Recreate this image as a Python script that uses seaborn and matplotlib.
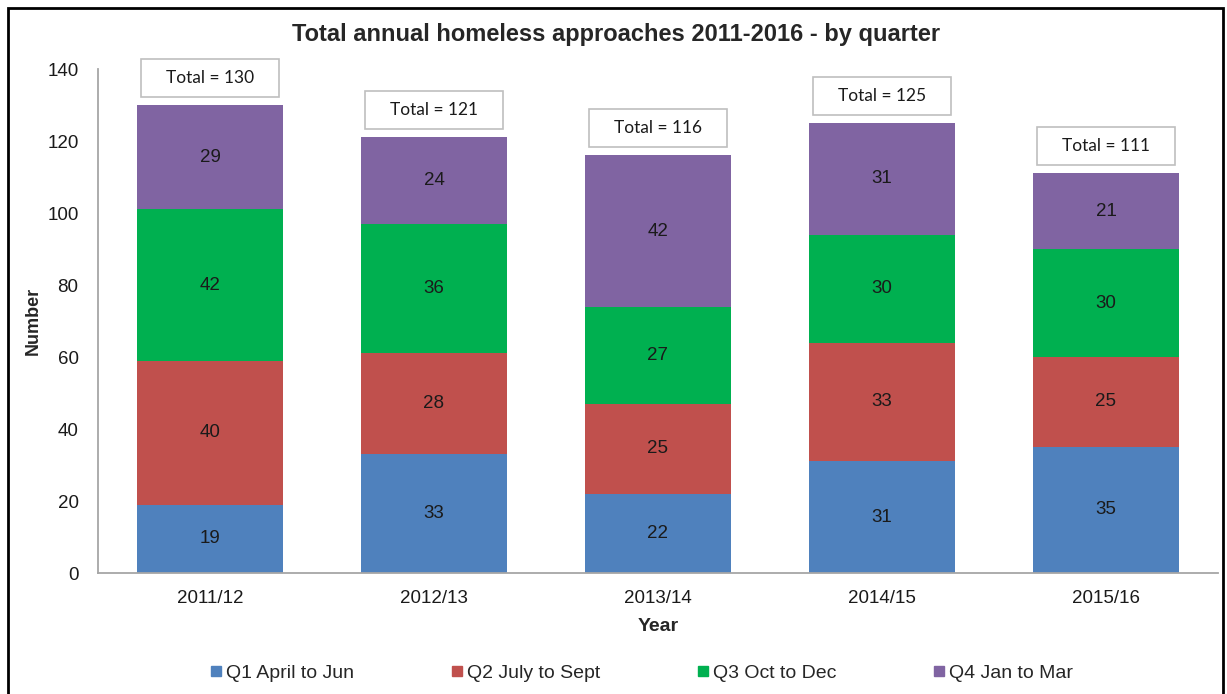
import matplotlib
matplotlib.use("Agg")
import matplotlib.pyplot as plt
from matplotlib.patches import Rectangle
from matplotlib.lines import Line2D
import numpy as np
import pandas as pd
import seaborn as sns

years = ["2011/12", "2012/13", "2013/14", "2014/15", "2015/16"]
q1 = [19, 33, 22, 31, 35]
q2 = [40, 28, 25, 33, 25]
q3 = [42, 36, 27, 30, 30]
q4 = [29, 24, 42, 31, 21]
series_names = ["Q1 April to Jun", "Q2 July to Sept", "Q3 Oct to Dec", "Q4 Jan to Mar"]
colors = ["#4F81BD", "#C0504D", "#00B050", "#8064A2"]

sns.set_theme(style="white")
plt.rcParams["font.family"] = ["Liberation Sans", "DejaVu Sans"]

fig = plt.figure(figsize=(12.27, 6.94), dpi=100)
ax = fig.add_axes([98 / 1227, 1 - 573 / 694, 1120 / 1227, (573 - 69) / 694])

series = [q1, q2, q3, q4]
stack = np.cumsum(np.array(series), axis=0)
totals = stack[-1]

# Stacked bars: draw cumulative heights from the top layer down
for i in range(len(series) - 1, -1, -1):
    df = pd.DataFrame({"Year": years, "Value": stack[i]})
    sns.barplot(data=df, x="Year", y="Value", color=colors[i], saturation=1,
                width=0.65, ax=ax, linewidth=0)

# Segment value labels
for i, vals in enumerate(series):
    base = stack[i] - np.array(vals)
    for j, v in enumerate(vals):
        ax.text(j, base[j] + v / 2, str(v), ha="center", va="center",
                fontsize=13.5, color="#1a1a1a")

# Total boxes above each bar
bw = 0.615
for j, t in enumerate(totals):
    ax.add_patch(Rectangle((j - bw / 2, t + 2.3), bw, 10.6, facecolor="white",
                           edgecolor="#BFBFBF", linewidth=1.2, clip_on=False, zorder=5))
    ax.text(j, t + 7.6, f"Total = {t}", ha="center", va="center", fontsize=12.5,
            family=["Lato", "DejaVu Sans"], color="#1a1a1a", zorder=6, clip_on=False)

ax.set_xlim(-0.5, 4.5)
ax.set_ylim(0, 140)
ax.set_yticks(range(0, 141, 20))
ax.tick_params(axis="both", length=0, labelsize=13.5, colors="#1a1a1a")
ax.tick_params(axis="x", pad=12)
ax.tick_params(axis="y", pad=14)
for s in ["top", "right"]:
    ax.spines[s].set_visible(False)
for s in ["left", "bottom"]:
    ax.spines[s].set_color("#A6A6A6")
    ax.spines[s].set_linewidth(1.3)

ax.set_xlabel("Year", fontsize=14, fontweight="bold", labelpad=8)
ax.set_ylabel("Number", fontsize=13, fontweight="bold")
ax.yaxis.set_label_coords((42 - 98) / 1120, 0.5)

fig.text(616 / 1227, 1 - 34 / 694, "Total annual homeless approaches 2011-2016 - by quarter",
         ha="center", va="center", fontsize=17, fontweight="bold")

handles = [Line2D([], [], marker="s", linestyle="", markersize=7,
                  markerfacecolor=c, markeredgecolor=c) for c in colors]
fig.legend(handles, series_names, loc="center", bbox_to_anchor=(0.522, 1 - 673 / 694),
           ncol=4, frameon=False, fontsize=14, handletextpad=0.1,
           columnspacing=4.9, handlelength=0.8)

fig.patches.append(Rectangle((8 / 1227, -0.02), 1215 / 1227, 1 - 8 / 694 + 0.02,
                             transform=fig.transFigure, fill=False,
                             edgecolor="black", linewidth=2))

fig.savefig("out.png", dpi=100)
